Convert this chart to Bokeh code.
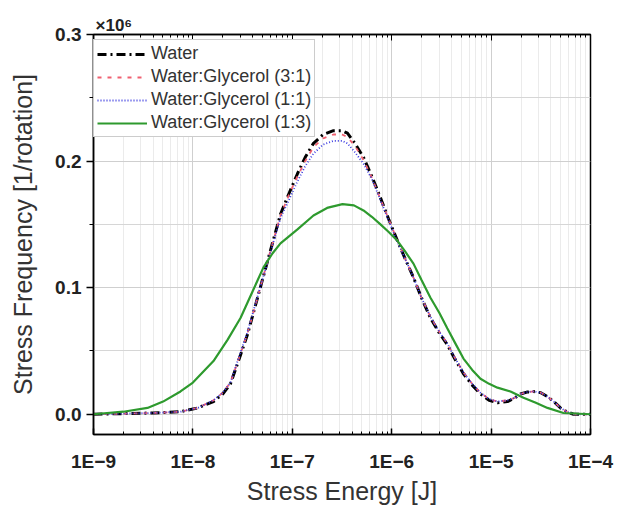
from bokeh.plotting import figure
from bokeh.models import (FixedTicker, LogAxis, CustomJSTickFormatter,
                          NumeralTickFormatter, Range1d, Legend, LegendItem)
from bokeh.embed import file_html
from bokeh.resources import INLINE

# ---- data (log10 of energy in J; frequency in units of 1e6 per rotation) ----
water_logE = [-9.0, -8.7, -8.4, -8.125, -7.95, -7.793, -7.7, -7.622, -7.52, -7.451,
              -7.35, -7.249, -7.119, -7.03, -6.948, -6.87, -6.787, -6.69, -6.586, -6.5,
              -6.445, -6.37, -6.284, -6.2, -6.113, -6.03, -5.942, -5.86, -5.781, -5.7,
              -5.61, -5.52, -5.441, -5.36, -5.278, -5.19, -5.107, -5.02, -4.936, -4.835,
              -4.76, -4.704, -4.64, -4.573, -4.5, -4.433, -4.37, -4.302, -4.24, -4.171, -4.0]
water_freq = [0.0, 0.0005, 0.001, 0.002, 0.005, 0.010, 0.016, 0.024, 0.047, 0.063,
              0.092, 0.121, 0.158, 0.175, 0.190, 0.203, 0.214, 0.221, 0.224, 0.224,
              0.222, 0.214, 0.203, 0.188, 0.171, 0.154, 0.137, 0.122, 0.108, 0.092,
              0.076, 0.064, 0.055, 0.043, 0.032, 0.023, 0.016, 0.011, 0.009, 0.010,
              0.013, 0.016, 0.0175, 0.018, 0.017, 0.014, 0.010, 0.005, 0.002, 0.0, 0.0]
wg31_freq = [0.0, 0.0005, 0.001, 0.002, 0.005, 0.011, 0.017, 0.025, 0.048, 0.064,
             0.092, 0.121, 0.157, 0.174, 0.188, 0.200, 0.211, 0.218, 0.221, 0.221,
             0.219, 0.212, 0.201, 0.187, 0.170, 0.154, 0.137, 0.122, 0.108, 0.092,
             0.077, 0.065, 0.056, 0.044, 0.033, 0.024, 0.017, 0.012, 0.010, 0.011,
             0.013, 0.016, 0.0175, 0.018, 0.017, 0.014, 0.010, 0.005, 0.002, 0.0, 0.0]
wg11_freq = [0.0, 0.0005, 0.001, 0.002, 0.005, 0.011, 0.017, 0.025, 0.049, 0.065,
             0.093, 0.120, 0.155, 0.170, 0.184, 0.196, 0.206, 0.213, 0.216, 0.216,
             0.214, 0.207, 0.198, 0.186, 0.169, 0.153, 0.136, 0.122, 0.108, 0.092,
             0.077, 0.065, 0.056, 0.044, 0.033, 0.024, 0.017, 0.012, 0.010, 0.011,
             0.013, 0.016, 0.0175, 0.018, 0.017, 0.014, 0.010, 0.005, 0.002, 0.0, 0.0]
wg13_logE = [-9.0, -8.7, -8.457, -8.3, -8.125, -8.0, -7.793, -7.65, -7.521, -7.4,
             -7.29, -7.2, -7.119, -6.948, -6.787, -6.65, -6.495, -6.38, -6.284, -6.2,
             -6.113, -6.03, -5.942, -5.86, -5.781, -5.7, -5.61, -5.52, -5.441, -5.36,
             -5.278, -5.19, -5.107, -5.02, -4.936, -4.805, -4.674, -4.55, -4.433, -4.272, -4.0]
wg13_freq = [0.0, 0.002, 0.005, 0.010, 0.018, 0.025, 0.042, 0.059, 0.076, 0.097,
             0.116, 0.127, 0.135, 0.146, 0.157, 0.163, 0.166, 0.165, 0.161, 0.156,
             0.150, 0.144, 0.137, 0.128, 0.119, 0.106, 0.092, 0.080, 0.068, 0.056,
             0.044, 0.035, 0.028, 0.024, 0.021, 0.018, 0.013, 0.009, 0.005, 0.001, 0.0]

series_names = ["Water", "Water:Glycerol (3:1)", "Water:Glycerol (1:1)", "Water:Glycerol (1:3)"]
x_ticks = [1e-9, 1e-8, 1e-7, 1e-6, 1e-5, 1e-4]
y_ticks = [0.0, 0.1, 0.2, 0.3]
scale_note = "\u00d710\u2076"

FONT = "Liberation Sans"

def energies(logs):
    return [10 ** v for v in logs]

p = figure(width=620, height=509, x_axis_type="log", output_backend="svg",
           toolbar_location=None, x_range=Range1d(1e-9, 1e-4),
           y_range=Range1d(-0.016, 0.3),
           min_border_left=93, min_border_right=30, min_border_top=34, min_border_bottom=75)
p.background_fill_color = "white"
p.outline_line_color = "black"
p.outline_line_width = 1.5

p.title.text = scale_note
p.title.align = "left"
p.title.offset = 2
p.title.text_font = FONT
p.title.text_font_style = "bold"
p.title.text_font_size = "17px"
p.title.text_color = "#222222"
p.title.standoff = 0

minor_x = [m * 10 ** e for e in range(-9, -4) for m in range(2, 10)]
xt = FixedTicker(ticks=x_ticks, minor_ticks=minor_x)
yt = FixedTicker(ticks=y_ticks, minor_ticks=[0.05, 0.15, 0.25])

xfmt = CustomJSTickFormatter(code="""
    const e = Math.round(Math.log10(tick));
    return "1E" + (e < 0 ? "\\u2212" + String(-e) : String(e));
""")

xa = p.xaxis[0]
xa.ticker = xt
xa.formatter = xfmt
ya = p.yaxis[0]
ya.ticker = yt
ya.formatter = NumeralTickFormatter(format="0.0")

for ax in (xa, ya):
    ax.axis_line_color = "black"
    ax.axis_line_width = 1.5
    ax.major_tick_line_color = "black"
    ax.minor_tick_line_color = "black"
    ax.major_tick_line_width = 1.5
    ax.major_label_text_font = FONT
    ax.major_label_text_font_style = "bold"
    ax.major_label_text_font_size = "19px"
    ax.major_label_text_color = "#222222"
    ax.axis_label_text_font = FONT
    ax.axis_label_text_font_style = "normal"
    ax.axis_label_text_font_size = "25px"
    ax.axis_label_text_color = "#333333"

xa.axis_label = "Stress Energy [J]"
xa.major_tick_in = 6
xa.major_tick_out = 0
xa.minor_tick_in = 3
xa.minor_tick_out = 0
xa.major_label_standoff = 16
xa.axis_label_standoff = 2

ya.axis_label = "Stress Frequency [1/rotation]"
ya.major_tick_in = 0
ya.major_tick_out = 7
ya.minor_tick_in = 0
ya.minor_tick_out = 4
ya.major_label_standoff = 5
ya.axis_label_standoff = 15

top = LogAxis(ticker=xt, formatter=xfmt, major_label_text_font_size="1px",
              major_label_text_color=None, major_tick_in=6, major_tick_out=0,
              minor_tick_in=3, minor_tick_out=0, axis_line_width=1.5,
              major_label_standoff=0)
p.add_layout(top, "above")

p.xgrid.ticker = xt
p.ygrid.ticker = yt
p.xgrid.grid_line_color = "#cfcfcf"
p.ygrid.grid_line_color = "#cfcfcf"
p.xgrid.minor_grid_line_color = "#ebebeb"
p.ygrid.minor_grid_line_color = "#d6d6d6"

r_water = p.line(energies(water_logE), water_freq, line_color="black", line_width=3,
                 line_dash="9 4 2 4")
r_31 = p.line(energies(water_logE), wg31_freq, line_color="#f06070", line_width=1.8,
              line_dash="4 6")
r_11 = p.line(energies(water_logE), wg11_freq, line_color="#3a3ae0", line_width=1.8,
              line_dash="1 2")
r_13 = p.line(energies(wg13_logE), wg13_freq, line_color="#2e9a2e", line_width=2.2)

legend = Legend(items=[LegendItem(label=n, renderers=[r]) for n, r in
                       zip(series_names, [r_water, r_31, r_11, r_13])],
                location=(0, 297), margin=0)
legend.label_text_font = FONT
legend.label_text_font_size = "18px"
legend.label_text_color = "#333333"
legend.glyph_width = 50
legend.glyph_height = 20
legend.label_height = 20
legend.spacing = 2
legend.padding = 3
legend.label_standoff = 4
legend.border_line_color = "#999999"
legend.border_line_width = 1
legend.background_fill_alpha = 1.0
p.add_layout(legend, "center")

open("out.html", "w").write(file_html(p, INLINE))
